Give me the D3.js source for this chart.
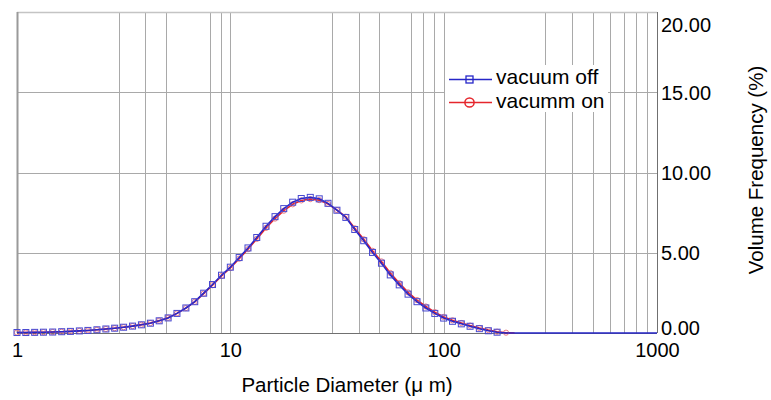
<!DOCTYPE html>
<html>
<head>
<meta charset="utf-8">
<script src="https://cdn.jsdelivr.net/npm/d3@7"></script>
<style>
  html, body { margin: 0; padding: 0; background: #fff; }
  svg { display: block; font-family: "Liberation Sans", Arial, sans-serif; }
</style>
</head>
<body>
<svg id="chart" width="771" height="400"></svg>
<script>
// Particle size classes (µm)
const sizes = [1.00,1.10,1.21,1.33,1.47,1.62,1.78,1.96,2.15,2.37,2.61,2.87,3.16,3.48,3.83,4.22,4.64,5.11,5.62,6.19,6.81,7.50,8.25,9.09,
  10.0,11.0,12.1,13.3,14.7,16.2,17.8,19.6,21.5,23.7,26.1,28.7,31.6,34.8,38.3,42.2,46.4,51.1,56.2,61.9,68.1,75.0,82.5,90.9,
  100,110,121,133,147,162,178,196,215,237,500,1000];

// Volume frequency (%) per class
const vacuumOff = [0.03,0.03,0.04,0.05,0.06,0.08,0.10,0.13,0.16,0.20,0.25,0.30,0.36,0.43,0.51,0.61,0.76,0.94,1.22,1.56,
  1.95,2.48,3.02,3.60,4.10,4.70,5.30,5.95,6.65,7.25,7.75,8.15,8.38,8.45,8.36,8.08,7.65,7.20,6.45,5.75,
  5.02,4.35,3.62,3.00,2.42,1.95,1.56,1.22,0.93,0.73,0.57,0.42,0.27,0.14,0.05,0.00,0,0,0,0];
const vacuumOn = [0.03,0.03,0.04,0.05,0.06,0.08,0.10,0.13,0.16,0.20,0.25,0.30,0.36,0.43,0.52,0.62,0.77,0.95,1.22,1.55,
  1.94,2.45,2.98,3.55,4.05,4.63,5.22,5.86,6.55,7.13,7.62,8.02,8.26,8.34,8.28,8.04,7.66,7.24,6.52,5.84,
  5.12,4.46,3.74,3.11,2.53,2.05,1.65,1.30,1.00,0.79,0.62,0.46,0.31,0.18,0.08,0.02,0.00,null,null,null];

const seriesNames = ["vacuum off", "vacumm on"];
const xTickValues = [1, 10, 100, 1000];
const xGridValues = [3,4,5,8,9,10, 30,40,50,70,80,90,100, 300,400,500,600,700,800,900];
const yTickValues = [0, 5, 10, 15, 20];

const svg = d3.select("#chart");
const plotL = 17, plotR = 657, plotT = 12, plotB = 333;

const x = d3.scaleLog().domain([1, 1000]).range([plotL, plotR]);
const y = d3.scaleLinear().domain([0, 20]).range([plotB, plotT]);

// grid
const grid = svg.append("g").attr("stroke", "#a9a9a9").attr("stroke-width", 1);
grid.selectAll("line.v").data(xGridValues).join("line")
  .attr("x1", d => Math.round(x(d)) + 0.5).attr("x2", d => Math.round(x(d)) + 0.5)
  .attr("y1", plotT).attr("y2", plotB);
grid.selectAll("line.h").data(yTickValues.filter(v => v > 0 && v < 20)).join("line")
  .attr("x1", plotL).attr("x2", plotR)
  .attr("y1", d => Math.round(y(d)) + 0.5).attr("y2", d => Math.round(y(d)) + 0.5);

// frame
svg.append("line").attr("x1", plotL).attr("x2", plotR).attr("y1", plotT + 0.5).attr("y2", plotT + 0.5)
  .attr("stroke", "#c4c4c4").attr("stroke-width", 1.5);
svg.append("line").attr("x1", plotL + 0.5).attr("x2", plotL + 0.5).attr("y1", plotT).attr("y2", plotB)
  .attr("stroke", "#9a9a9a").attr("stroke-width", 2);
svg.append("line").attr("x1", plotR + 0.5).attr("x2", plotR + 0.5).attr("y1", plotT).attr("y2", plotB)
  .attr("stroke", "#707070").attr("stroke-width", 1);
svg.append("line").attr("x1", plotL).attr("x2", plotR).attr("y1", plotB + 0.5).attr("y2", plotB + 0.5)
  .attr("stroke", "#707070").attr("stroke-width", 1);

// axes
const xAxis = svg.append("g").attr("transform", `translate(0,${plotB})`)
  .call(d3.axisBottom(x).tickValues(xTickValues).tickFormat(d3.format("d")).tickSize(0).tickPadding(10));
xAxis.select(".domain").remove();
xAxis.selectAll("text").attr("font-size", 20).attr("fill", "#000").attr("font-family", "Liberation Sans, Arial, sans-serif");

const yAxis = svg.append("g").attr("transform", `translate(${plotR},0)`)
  .call(d3.axisRight(y).tickValues(yTickValues).tickFormat(d3.format(".2f")).tickSize(0).tickPadding(4));
yAxis.select(".domain").remove();
yAxis.selectAll("text").attr("font-size", 20).attr("fill", "#000").attr("font-family", "Liberation Sans, Arial, sans-serif")
  .attr("dy", d => d === 20 ? "0.95em" : d === 0 ? "0.05em" : "0.35em");

// series
const pts = vals => sizes.map((s, i) => ({ s, v: vals[i] }));
const line = d3.line().defined(d => d.v != null).x(d => x(d.s)).y(d => y(d.v));

const onPts = pts(vacuumOn), offPts = pts(vacuumOff);

svg.append("path").datum(onPts).attr("d", line)
  .attr("fill", "none").attr("stroke", "#e5262c").attr("stroke-width", 1.6);
svg.append("g").selectAll("circle").data(onPts.filter(d => d.v > 0)).join("circle")
  .attr("cx", d => x(d.s)).attr("cy", d => y(d.v)).attr("r", 2.6)
  .attr("fill", "none").attr("stroke", "#ee7f84").attr("stroke-width", 1);

svg.append("path").datum(offPts).attr("d", line)
  .attr("fill", "none").attr("stroke", "#2626c8").attr("stroke-width", 1.6);
svg.append("g").selectAll("rect").data(offPts.filter(d => d.v > 0)).join("rect")
  .attr("x", d => x(d.s) - 3).attr("y", d => y(d.v) - 3).attr("width", 6).attr("height", 6)
  .attr("fill", "none").attr("stroke", "#4848d0").attr("stroke-width", 1);

// legend
const lg = svg.append("g");
lg.append("rect").attr("x", 445).attr("y", 65).attr("width", 163).attr("height", 47).attr("fill", "#fff");
lg.append("line").attr("x1", 449).attr("x2", 492).attr("y1", 79.5).attr("y2", 79.5)
  .attr("stroke", "#2626c8").attr("stroke-width", 1.6);
lg.append("rect").attr("x", 466).attr("y", 76).attr("width", 7).attr("height", 7)
  .attr("fill", "none").attr("stroke", "#2626c8").attr("stroke-width", 1.3);
lg.append("text").attr("x", 496).attr("y", 84).attr("font-size", 21).text(seriesNames[0]);
lg.append("line").attr("x1", 449).attr("x2", 492).attr("y1", 102.5).attr("y2", 102.5)
  .attr("stroke", "#e5262c").attr("stroke-width", 1.6);
lg.append("circle").attr("cx", 469.5).attr("cy", 102.5).attr("r", 4.6)
  .attr("fill", "none").attr("stroke", "#e5262c").attr("stroke-width", 1.5);
lg.append("text").attr("x", 496).attr("y", 107.5).attr("font-size", 21).text(seriesNames[1]);

// axis titles
svg.append("text").attr("x", 347).attr("y", 392).attr("text-anchor", "middle").attr("font-size", 20.5)
  .text("Particle Diameter (μ m)");
svg.append("text").attr("transform", "translate(763,170) rotate(-90)").attr("text-anchor", "middle")
  .attr("font-size", 20.5).text("Volume Frequency (%)");
</script>
</body>
</html>
